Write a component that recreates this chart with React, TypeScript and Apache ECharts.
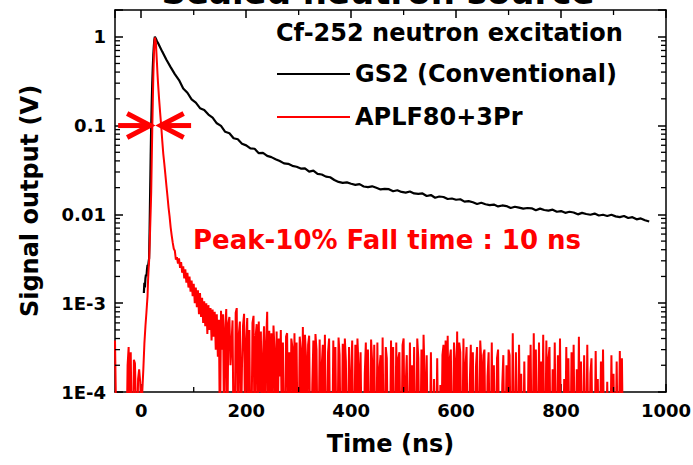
import React, { useEffect, useRef } from "react";
import * as echarts from "echarts";

const FONT = '"DejaVu Sans", "Liberation Sans", sans-serif';

// ---- axes ----
const xRange = [-50, 1000];
const yRangeV = [1e-4, 2];
const yTickValues = [1, 0.1, 0.01, 0.001, 0.0001];
const yTickText = ["1", "0.1", "0.01", "1E-3", "1E-4"];
const xMinorTicks = [100, 300, 500, 700, 900];
const yMinorMultipliers = [2, 3, 4, 5, 6, 7, 8, 9];
const yMinorDecades = [1e-4, 1e-3, 1e-2, 1e-1];

// ---- series names / texts ----
const gs2Name = "GS2 (Conventional)";
const aplfName = "APLF80+3Pr";
const headerText = "Cf-252 neutron excitation";
const topTitleText = "Sealed neutron source";
const fallText = "Peak-10% Fall time : 10 ns";

// ---- GS2 (black) trace, volts ----
const gs2RiseTime = [5, 6, 7, 8, 9, 10, 11, 12, 13, 14, 15, 16, 17, 18, 19, 20, 21, 22, 23, 24, 25, 26, 27, 28, 30];
const gs2RiseSignal = [0.0013, 0.0017, 0.0015, 0.0019, 0.0021, 0.002, 0.0024, 0.0027, 0.0026, 0.0029, 0.0032, 0.007, 0.018, 0.045, 0.1, 0.18, 0.3, 0.45, 0.62, 0.78, 0.92, 1.0, 0.99, 0.95, 0.89];
// tail samples every 8 ns starting at 32 ns
const gs2TailStart = 32;
const gs2TailStep = 8;
const gs2TailSignal = [
  0.85, 0.68, 0.55, 0.455, 0.38, 0.325, 0.262, 0.234, 0.197, 0.181,
  0.157, 0.15, 0.133, 0.123, 0.106, 0.099, 0.085, 0.082, 0.072, 0.07,
  0.0625, 0.0598, 0.0552, 0.0548, 0.0489, 0.0492, 0.0455, 0.0441, 0.0418, 0.0398,
  0.0375, 0.0371, 0.0352, 0.0344, 0.0328, 0.0329, 0.0303, 0.0311, 0.0286, 0.0281,
  0.0266, 0.0262, 0.0244, 0.0232, 0.0226, 0.0229, 0.0221, 0.0215, 0.0219, 0.0206,
  0.0203, 0.0207, 0.0199, 0.0191, 0.0194, 0.0192, 0.0182, 0.0187, 0.0179, 0.0176,
  0.0181, 0.0172, 0.017, 0.0172, 0.0161, 0.0165, 0.0154, 0.0159, 0.0157, 0.0149,
  0.0151, 0.0146, 0.0148, 0.0139, 0.0141, 0.0137, 0.0131, 0.0135, 0.013, 0.0127,
  0.0129, 0.0123, 0.0126, 0.0124, 0.0118, 0.0122, 0.0119, 0.0116, 0.0118, 0.0117,
  0.0111, 0.0116, 0.0112, 0.011, 0.0113, 0.0107, 0.0109, 0.0104, 0.0107, 0.0105,
  0.01, 0.0104, 0.0101, 0.0099, 0.0102, 0.0097, 0.0099, 0.0096, 0.0099, 0.0095,
  0.0093, 0.0096, 0.0091, 0.0093, 0.0088, 0.009, 0.0086, 0.0083,
];

// ---- APLF80+3Pr (red) trace ----
// pre-trigger noise every 2 ns from -50 ns, in units of 1e-4 V
const aplfPreStart = -50;
const aplfPreStep = 2;
const aplfPreSignal1e4 = [3.8, 0.6, 0, 0, 0, 0, 0, 0, 0, 0, 0, 0, 2.0, 3.2, 0.4, 2.8, 0.3, 0, 2.3, 2.1, 0.7, 0, 1.4, 1.8, 1.3, 0.6];
// rise, peak and fast fall, volts
const aplfPeakTime = [2, 4, 6, 8, 10, 12, 13, 14, 15, 16, 17, 18, 19, 20, 21, 22, 23, 24, 25, 26, 27, 28, 29, 30, 31, 32, 34, 36, 38, 40, 42, 44, 46, 48, 50, 52, 54, 56, 58];
const aplfPeakSignal = [1.0e-4, 1.8e-4, 3.5e-4, 5.5e-4, 8e-4, 1.2e-3, 1.8e-3, 2.4e-3, 3e-3, 4.5e-3, 7e-3, 0.011, 0.018, 0.04, 0.09, 0.18, 0.35, 0.6, 0.85, 0.98, 0.97, 0.85, 0.65, 0.5, 0.38, 0.3, 0.2, 0.14, 0.1, 0.068, 0.048, 0.037, 0.028, 0.021, 0.016, 0.012, 0.0095, 0.0072, 0.0058];
// slow component every 2 ns from 60 ns, volts
const aplfSlowStart = 60;
const aplfSlowStep = 2;
const aplfSlowSignal = [
  4.8e-3, 4.1e-3, 3.9e-3, 3.1e-3, 3.3e-3, 2.8e-3, 3.2e-3, 2.5e-3, 2.9e-3, 2.2e-3,
  2.6e-3, 1.9e-3, 2.4e-3, 1.7e-3, 2.2e-3, 1.5e-3, 2.0e-3, 1.35e-3, 1.8e-3, 1.2e-3,
  1.65e-3, 1.0e-3, 1.5e-3, 0.9e-3, 1.4e-3, 0.75e-3, 1.3e-3, 0.7e-3, 1.15e-3, 0.6e-3,
  1.05e-3, 0.55e-3, 1.0e-3, 0.45e-3, 0.95e-3, 0.5e-3, 0.88e-3, 0.38e-3, 0.85e-3, 0.42e-3,
  0.8e-3, 0.3e-3, 0.75e-3, 0.25e-3,
];
// noise floor every 2 ns from 148 ns, in units of 1e-4 V
const aplfNoiseStart = 148;
const aplfNoiseStep = 2;
const aplfNoiseSignal1e4 = [
  6.5, 0, 8.2, 3.0, 7.5, 0, 5.2, 8.6, 0, 6.0, 7.0, 2.0, 3.5, 6.4, 0, 0, 7.8, 8.8, 0, 4.5, 6.2, 0, 2.0, 5.6, 7.6, 0, 3.8, 6.8, 0, 5.0, 0, 0, 6.0, 7.2, 0, 4.2, 5.8, 0, 6.2, 1.0, 4.8, 0, 2.5, 5.5, 0, 3.6, 8.0, 0, 4.9, 0,
  4.6, 0, 5.6, 3.0, 0, 4.8, 0, 4.0, 1.5, 5.0, 0, 3.6, 0, 0, 4.2, 4.6, 0, 2.8, 0, 4.0, 3.2, 0, 4.6, 0, 3.6, 0, 0, 4.2, 3.0, 0, 5.4, 0, 4.4, 2.5, 0, 3.4, 4.3, 0, 0, 1.2, 3.8, 0, 4.5, 3.0, 0, 0, 3.9, 0, 2.0, 3.4,
  0, 4.4, 0, 0, 2.8, 4.0, 0, 1.0, 0, 3.8, 0, 3.2, 0, 0, 4.1, 2.6, 0, 0, 3.5, 0, 4.0, 2.2, 0, 0, 3.2, 0, 1.5, 3.8, 0, 0, 3.4, 0, 4.0, 2.0, 0, 2.8, 0, 0, 0, 1.6, 3.6, 0, 3.0, 0, 0, 3.9, 2.2, 0, 3.4, 0,
  0, 3.6, 0, 1.8, 2.6, 0, 4.1, 0, 0, 3.2, 2.4, 0, 0, 0, 3.8, 0, 3.2, 0, 0, 3.6, 0, 2.4, 2.8, 0, 0, 3.4, 4.0, 0, 1.2, 2.6, 0, 0, 3.6, 0, 2.0, 0, 3.2, 0, 0, 4.0, 2.4, 0, 0, 3.0, 0, 4.4, 1.5, 0, 2.6, 0,
  0, 0, 2.8, 0, 0, 1.4, 0, 0, 2.4, 0, 0, 1.2, 0, 2.6, 3.4, 0, 3.8, 0, 4.3, 0, 2.4, 3.0, 0, 0, 3.6, 2.2, 0, 4.8, 0, 3.6, 2.8, 0, 0, 4.0, 0, 2.0, 3.2, 0, 0, 1.2, 3.4, 0, 2.8, 0, 0, 2.0, 3.2, 0, 0, 3.8,
  2.2, 0, 2.6, 3.0, 0, 0, 1.5, 2.8, 0, 0, 3.6, 0, 2.0, 0, 0, 2.4, 3.0, 0, 0, 0, 1.2, 2.6, 0, 0, 2.0, 0, 3.0, 2.6, 0, 0, 4.6, 0, 0, 2.8, 0, 0, 3.4, 0, 1.6, 0, 0, 2.2, 0, 0, 0, 2.6, 0, 3.4, 0, 0,
  4.6, 0, 3.0, 0, 0, 3.6, 0, 2.2, 0, 4.4, 0, 0, 3.8, 0, 2.4, 3.2, 0, 0, 1.8, 0, 3.6, 0, 0, 2.6, 0, 4.0, 0, 0, 0, 1.4, 0, 3.2, 0, 2.4, 0, 0, 2.8, 0, 3.4, 0, 0, 1.8, 0, 4.2, 0, 2.2, 0, 0, 2.6, 0,
  0, 3.4, 0, 0, 1.6, 2.4, 0, 0, 0, 2.9, 0, 1.4, 0, 0, 2.2, 0, 3.0, 0, 0, 0, 1.3, 0, 0, 0, 2.6, 0, 1.6, 0, 0, 2.2, 0, 0, 2.9, 0, 2.4, 0, 0,
];

// ---- fall-time arrows (annotation, data coordinates) ----
const arrowTailTime = [-44, 95];
const arrowTipTime = [17, 37];
const arrowLevelV = 0.1;

const BELOW_AXIS = -4.6; // non-positive samples drop below the 1E-4 floor (clipped)
const toLog = (v: number) => (v > 0 ? Math.log10(v) : BELOW_AXIS);

function buildOption() {
  const gs2Data: number[][] = [
    ...gs2RiseTime.map((t, i) => [t, toLog(gs2RiseSignal[i])]),
    ...gs2TailSignal.map((v, i) => [gs2TailStart + i * gs2TailStep, toLog(v)]),
  ];
  const aplfData: number[][] = [
    ...aplfPreSignal1e4.map((v, i) => [aplfPreStart + i * aplfPreStep, toLog(v * 1e-4)]),
    ...aplfPeakTime.map((t, i) => [t, toLog(aplfPeakSignal[i])]),
    ...aplfSlowSignal.map((v, i) => [aplfSlowStart + i * aplfSlowStep, toLog(v)]),
    ...aplfNoiseSignal1e4.map((v, i) => [aplfNoiseStart + i * aplfNoiseStep, toLog(v * 1e-4)]),
  ];

  const yMinorData: number[][] = [];
  yMinorDecades.forEach((d) => yMinorMultipliers.forEach((m) => yMinorData.push([xRange[0], Math.log10(m * d)])));
  const xMinorData = xMinorTicks.map((x) => [x, Math.log10(yRangeV[0])]);
  const arrowData = arrowTailTime.map((t, i) => [t, arrowTipTime[i], Math.log10(arrowLevelV)]);

  const yMin = Math.log10(yRangeV[0]);
  const yMax = Math.log10(yRangeV[1]);

  const axisLine = { show: true, onZero: false, lineStyle: { color: "#000", width: 1.5 } };
  const axisTick = { show: true, inside: true, length: 8, lineStyle: { color: "#000", width: 1.5 } };
  const labelStyle = { fontFamily: FONT, fontWeight: "bold" as const, fontSize: 18, color: "#000" };
  const nameStyle = { fontFamily: FONT, fontWeight: "bold" as const, fontSize: 24, color: "#000" };
  const yFormatter = (v: number) => {
    const i = yTickValues.findIndex((t) => Math.abs(Math.log10(t) - v) < 1e-6);
    return i >= 0 ? yTickText[i] : "";
  };

  return {
    animation: false,
    backgroundColor: "#fff",
    grid: { left: 115, right: 27, top: 10, bottom: 73, containLabel: false, outerBoundsMode: "none" },
    xAxis: [
      {
        type: "value", min: xRange[0], max: xRange[1], position: "bottom",
        axisLine, axisTick, splitLine: { show: false },
        axisLabel: { ...labelStyle, margin: 9, showMinLabel: false, formatter: (v: number) => String(v) },
        name: "Time (ns)", nameLocation: "middle", nameGap: 40, nameTextStyle: nameStyle,
      },
      {
        type: "value", min: xRange[0], max: xRange[1], position: "top",
        axisLine, axisTick, splitLine: { show: false }, axisLabel: { show: false },
      },
    ],
    yAxis: [
      {
        type: "value", min: yMin, max: yMax, interval: 1, position: "left",
        axisLine, axisTick, splitLine: { show: false },
        axisLabel: { ...labelStyle, margin: 9, formatter: yFormatter },
        name: "Signal output (V)", nameLocation: "middle", nameGap: 73, nameTextStyle: nameStyle,
      },
      {
        type: "value", min: yMin, max: yMax, interval: 1, position: "right",
        axisLine, axisTick, splitLine: { show: false }, axisLabel: { show: false },
      },
    ],
    legend: {
      orient: "vertical", left: 277, top: 62, padding: 0, itemWidth: 73, itemHeight: 2, itemGap: 19,
      icon: "rect",
      data: [gs2Name, aplfName],
      textStyle: { fontFamily: FONT, fontWeight: "bold", fontSize: 24, color: "#000", lineHeight: 24 },
      selectedMode: false,
    },
    graphic: [
      {
        type: "text", x: 378, y: -8, silent: true,
        style: { text: topTitleText, align: "center", verticalAlign: "middle", font: `bold 34px ${FONT}`, fill: "#000" },
      },
      {
        type: "text", left: 276, top: 21, silent: true,
        style: { text: headerText, font: `bold 24px ${FONT}`, fill: "#000" },
      },
      {
        type: "text", left: 193, top: 227, silent: true,
        style: { text: fallText, font: `bold 26px ${FONT}`, fill: "#ff0000" },
      },
    ],
    series: [
      {
        name: gs2Name, type: "line", data: gs2Data, showSymbol: false, symbol: "none",
        lineStyle: { color: "#000", width: 2.2 }, itemStyle: { color: "#000" }, clip: true, z: 2,
      },
      {
        name: aplfName, type: "line", data: aplfData, showSymbol: false, symbol: "none",
        lineStyle: { color: "#ff0000", width: 2 }, itemStyle: { color: "#ff0000" }, clip: true, z: 3,
      },
      {
        type: "custom", silent: true, data: yMinorData, encode: { x: 0, y: 1 }, z: 4, clip: false,
        renderItem: (params: any, api: any) => {
          const cs = params.coordSys;
          const p = api.coord([api.value(0), api.value(1)]);
          const st = { stroke: "#000", lineWidth: 1.3 };
          return {
            type: "group",
            children: [
              { type: "line", shape: { x1: cs.x, y1: p[1], x2: cs.x + 5, y2: p[1] }, style: st },
              { type: "line", shape: { x1: cs.x + cs.width, y1: p[1], x2: cs.x + cs.width - 5, y2: p[1] }, style: st },
            ],
          };
        },
      },
      {
        type: "custom", silent: true, data: xMinorData, encode: { x: 0, y: 1 }, z: 4, clip: false,
        renderItem: (params: any, api: any) => {
          const cs = params.coordSys;
          const p = api.coord([api.value(0), api.value(1)]);
          const st = { stroke: "#000", lineWidth: 1.3 };
          return {
            type: "group",
            children: [
              { type: "line", shape: { x1: p[0], y1: cs.y + cs.height, x2: p[0], y2: cs.y + cs.height - 5 }, style: st },
              { type: "line", shape: { x1: p[0], y1: cs.y, x2: p[0], y2: cs.y + 5 }, style: st },
            ],
          };
        },
      },
      {
        type: "custom", silent: true, data: arrowData, encode: { x: [0, 1], y: 2 }, z: 5, clip: false,
        renderItem: (params: any, api: any) => {
          const tail = api.coord([api.value(0), api.value(2)]);
          const tip = api.coord([api.value(1), api.value(2)]);
          const dir = tip[0] > tail[0] ? 1 : -1;
          const st = { stroke: "#ff0000", lineWidth: 5, fill: null, lineCap: "butt", lineJoin: "miter" };
          return {
            type: "group",
            children: [
              { type: "line", shape: { x1: tail[0], y1: tail[1], x2: tip[0] - dir * 2, y2: tip[1] }, style: st },
              {
                type: "polyline",
                shape: { points: [[tip[0] - dir * 23, tip[1] - 12], [tip[0], tip[1]], [tip[0] - dir * 23, tip[1] + 12]] },
                style: st,
              },
            ],
          };
        },
      },
    ],
  };
}

export default function App() {
  const ref = useRef<HTMLDivElement>(null);
  useEffect(() => {
    if (!ref.current) return;
    const chart = echarts.init(ref.current, undefined, { renderer: "svg" });
    chart.setOption(buildOption() as any);
    return () => chart.dispose();
  }, []);
  return (
    <div
      ref={ref}
      style={{ position: "fixed", left: 0, top: 0, width: 693, height: 465, background: "#fff" }}
    />
  );
}
